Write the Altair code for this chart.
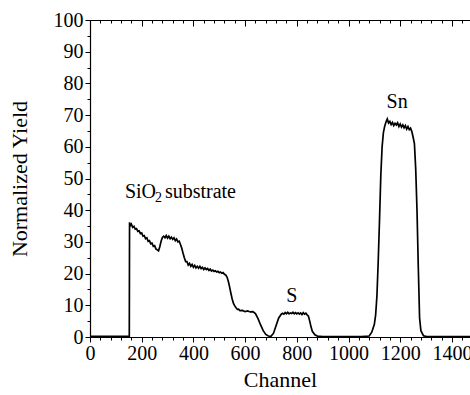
import altair as alt
import pandas as pd

# ---- spectrum data ----
channel = [0, 150, 152, 153, 155, 160, 165, 170, 175, 180, 185, 190, 195, 200,
           205, 210, 215, 220, 225, 230, 235, 240, 245, 250, 255, 260, 265,
           270, 275, 280, 285, 290, 295, 300, 305, 310, 315, 320, 325, 330,
           335, 340, 345, 350, 355, 360, 365, 370, 375, 380, 385, 390, 395,
           400, 405, 410, 415, 420, 425, 430, 435, 440, 445, 450, 455, 460,
           465, 470, 475, 480, 485, 490, 495, 500, 505, 510, 515, 520, 525,
           530, 535, 540, 545, 550, 555, 560, 565, 570, 575, 580, 590, 600,
           610, 620, 630, 640, 650, 660, 670, 680, 690, 700, 710, 720, 730,
           740, 745, 750, 755, 760, 765, 770, 775, 780, 785, 790, 795, 800,
           805, 810, 815, 820, 825, 830, 835, 840, 845, 850, 855, 860, 870,
           880, 900, 950, 1000, 1050, 1080, 1090, 1100, 1105, 1110, 1115,
           1120, 1125, 1130, 1135, 1140, 1145, 1150, 1155, 1160, 1165, 1170,
           1175, 1180, 1185, 1190, 1195, 1200, 1205, 1210, 1215, 1220, 1225,
           1230, 1235, 1240, 1245, 1250, 1255, 1260, 1265, 1270, 1275, 1280,
           1290, 1300, 1350, 1400, 1470]
yield_values = [0.2, 0.2, 0.2, 36.2, 35.0, 35.6, 34.6, 34.9, 34.0, 34.2, 33.3,
                33.5, 32.6, 32.8, 31.8, 32.0, 31.0, 31.3, 30.2, 30.4, 29.4,
                29.6, 28.6, 28.8, 27.8, 27.5, 27.2, 28.5, 30.2, 31.4, 31.8,
                31.3, 32.0, 31.2, 31.8, 31.0, 31.5, 30.8, 31.3, 30.4, 30.9,
                30.0, 30.2, 29.2, 28.0, 26.4, 25.0, 23.8, 23.8, 22.7, 23.2,
                22.3, 22.9, 22.0, 22.6, 21.8, 22.3, 21.7, 22.3, 21.6, 22.0,
                21.3, 21.8, 21.3, 21.6, 21.0, 21.4, 20.8, 21.1, 20.7, 20.9,
                20.5, 20.7, 20.3, 20.5, 20.1, 20.3, 19.8, 19.6, 18.9, 17.6,
                15.8, 13.8, 12.0, 10.6, 9.8, 9.2, 8.7, 8.8, 8.3, 8.4, 8.0,
                8.2, 7.9, 8.0, 7.4, 5.8, 3.8, 2.0, 0.8, 0.3, 0.2, 1.2, 3.6,
                6.0, 7.2, 7.5, 7.2, 7.7, 7.3, 7.8, 7.3, 7.6, 7.4, 7.8, 7.3,
                7.7, 7.3, 7.6, 7.2, 7.6, 7.1, 7.7, 7.2, 7.5, 7.0, 6.6, 5.0,
                3.2, 1.8, 0.7, 0.3, 0.1, 0.1, 0.1, 0.1, 0.3, 1.5, 4.0, 7.0,
                13.0, 24.0, 37.0, 51.0, 60.0, 64.5, 66.5, 67.8, 68.8, 67.5,
                68.0, 67.0, 67.7, 66.7, 67.4, 66.9, 67.6, 66.4, 67.2, 66.2,
                66.9, 66.0, 66.7, 65.6, 66.4, 65.4, 65.9, 64.8, 63.0, 61.0,
                53.0, 40.0, 22.0, 6.0, 2.0, 0.4, 0.2, 0.1, 0.1, 0.1]

# ---- axis tick values ----
x_major = [0, 200, 400, 600, 800, 1000, 1200, 1400]
x_minor = [40, 80, 120, 160, 240, 280, 320, 360, 440, 480, 520, 560, 640,
           680, 720, 760, 840, 880, 920, 960, 1040, 1080, 1120, 1160, 1240,
           1280, 1320, 1360, 1440]
y_major = [0, 10, 20, 30, 40, 50, 60, 70, 80, 90, 100]
y_minor = [5, 15, 25, 35, 45, 55, 65, 75, 85, 95]

# ---- annotations ----
ann_text = ["S", "Sn"]
ann_x = [781, 1188]
ann_y = [11.0, 72.2]

sio2_x = [135]
sio2_y = [43.8]

FONT = "Liberation Serif, Times New Roman, serif"
W, H = 380, 317

df = pd.DataFrame({"channel": channel, "yield": yield_values})
ann = pd.DataFrame({"label": ann_text, "channel": ann_x, "yield": ann_y})
sio2 = pd.DataFrame({"channel": sio2_x, "yield": sio2_y})

xs = alt.Scale(domain=[0, 1470], nice=False, zero=False)
ys = alt.Scale(domain=[0, 100], nice=False)

common_axis = dict(labelFont=FONT, titleFont=FONT, labelColor="black",
                   titleColor="black", domainColor="black", tickColor="black",
                   labelFontWeight="normal", titleFontWeight="normal",
                   grid=False)

line = alt.Chart(df).mark_line(color="black", strokeWidth=1.7).encode(
    x=alt.X("channel:Q", scale=xs,
            axis=alt.Axis(orient="bottom", values=x_major, title="Channel",
                          format="d", tickSize=5, labelFontSize=20,
                          titleFontSize=22, labelPadding=1, titlePadding=6,
                          domainWidth=1.2, labelFlush=False, **common_axis)),
    y=alt.Y("yield:Q", scale=ys,
            axis=alt.Axis(orient="left", values=y_major, format="d",
                          title="Normalized Yield", tickSize=5,
                          labelFontSize=20, titleFontSize=22, labelPadding=2,
                          titlePadding=22, domainWidth=1.2, labelFlush=False,
                          **common_axis)),
)

minor = alt.Chart(df).mark_line(opacity=0).encode(
    x=alt.X("channel:Q", scale=xs,
            axis=alt.Axis(orient="bottom", values=x_minor, title=None,
                          labels=False, domain=False, tickSize=3,
                          **common_axis)),
    y=alt.Y("yield:Q", scale=ys,
            axis=alt.Axis(orient="left", values=y_minor, title=None,
                          labels=False, domain=False, tickSize=3,
                          **common_axis)),
)

top_major = alt.Chart(df).mark_line(opacity=0).encode(
    x=alt.X("channel:Q", scale=xs,
            axis=alt.Axis(orient="bottom", offset=-H, values=x_major,
                          title=None, labels=False, tickSize=6,
                          domainWidth=1.2, **common_axis)),
    y=alt.Y("yield:Q", scale=ys, axis=None),
)

top_minor = alt.Chart(df).mark_line(opacity=0).encode(
    x=alt.X("channel:Q", scale=xs,
            axis=alt.Axis(orient="bottom", offset=-H, values=x_minor,
                          title=None, labels=False, domain=False, tickSize=3,
                          **common_axis)),
    y=alt.Y("yield:Q", scale=ys, axis=None),
)

labels = alt.Chart(ann).mark_text(font=FONT, fontSize=20, color="black",
                                  align="center", baseline="alphabetic").encode(
    x=alt.X("channel:Q", scale=xs, axis=None),
    y=alt.Y("yield:Q", scale=ys, axis=None),
    text="label:N",
)

sio_a = alt.Chart(sio2).mark_text(font=FONT, fontSize=20, color="black",
                                  align="left", baseline="alphabetic",
                                  text="SiO").encode(
    x=alt.X("channel:Q", scale=xs, axis=None),
    y=alt.Y("yield:Q", scale=ys, axis=None),
)
sio_b = alt.Chart(sio2).mark_text(font=FONT, fontSize=14, color="black",
                                  align="left", baseline="alphabetic",
                                  text="2", dx=30, dy=4).encode(
    x=alt.X("channel:Q", scale=xs, axis=None),
    y=alt.Y("yield:Q", scale=ys, axis=None),
)
sio_c = alt.Chart(sio2).mark_text(font=FONT, fontSize=20, color="black",
                                  align="left", baseline="alphabetic",
                                  text="substrate", dx=40).encode(
    x=alt.X("channel:Q", scale=xs, axis=None),
    y=alt.Y("yield:Q", scale=ys, axis=None),
)

chart = alt.layer(line, minor, top_major, top_minor, labels, sio_a, sio_b,
                  sio_c).resolve_axis(x="independent", y="independent"
).properties(
    width=W, height=H,
    autosize=alt.AutoSizeParams(type="none"),
    padding={"left": 90, "top": 20, "right": 0, "bottom": 58},
    background="white",
).configure_view(stroke=None).configure_axis(
    labelFont=FONT, titleFont=FONT, grid=False
).configure_text(font=FONT)

chart.save("out.html", embed_options={"renderer": "svg", "actions": False})
